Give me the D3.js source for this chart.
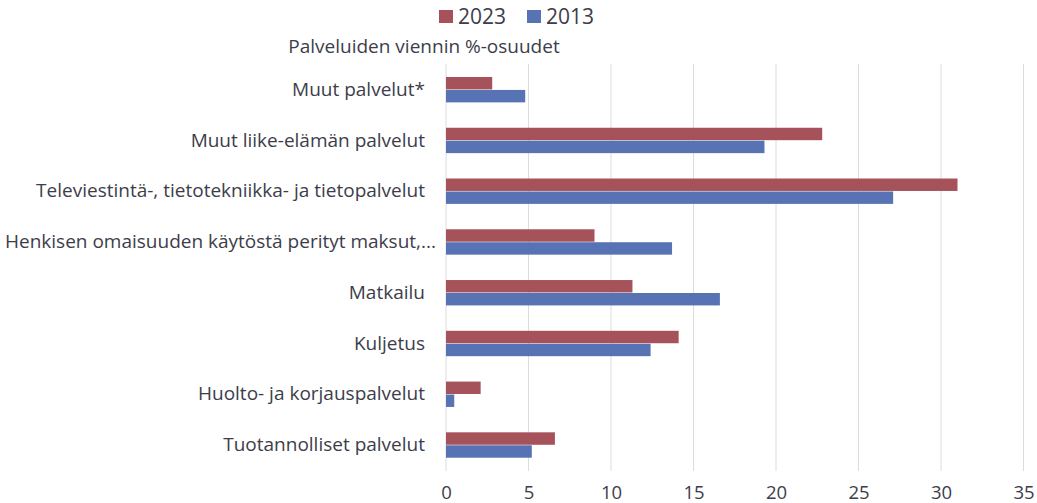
<!DOCTYPE html>
<html><head><meta charset="utf-8">
<script src="https://cdn.jsdelivr.net/npm/d3@7"></script>
<style>body{margin:0;background:#fff;} svg{display:block;font-family:"Open Sans",sans-serif;}</style>
</head><body>
<svg id="c" width="1037" height="503"></svg>
<script>
const categories = ["Muut palvelut*","Muut liike-elämän palvelut","Televiestintä-, tietotekniikka- ja tietopalvelut","Henkisen omaisuuden käytöstä perityt maksut,...","Matkailu","Kuljetus","Huolto- ja korjauspalvelut","Tuotannolliset palvelut"];
const series = ["2023","2013"];
const values2023 = [2.8,22.8,31.0,9.0,11.3,14.1,2.1,6.6];
const values2013 = [4.8,19.3,27.1,13.7,16.6,12.4,0.5,5.2];
const xTicks = [0,5,10,15,20,25,30,35];
const colors = {"2023":"#a5525a","2013":"#5873b4"};
const title = "Palveluiden viennin %-osuudet";

const svg = d3.select("#c");
const x = d3.scaleLinear().domain([0,35]).range([446,1023.5]);
const y = d3.scaleBand().domain(categories).range([64.3,470.4]).paddingInner(0.5).paddingOuter(0.25);
const ySub = d3.scaleBand().domain(series).range([0,y.bandwidth()]).paddingInner(0.04);
const textColor = "#3d3d4a";

// gridlines
svg.append("g").selectAll("line").data(xTicks).join("line")
  .attr("x1",d=>x(d)).attr("x2",d=>x(d)).attr("y1",64).attr("y2",471)
  .attr("stroke","#dcdcdc").attr("stroke-width",1);

// bars
const data = categories.map((c,i)=>({cat:c, vals:[{s:"2023",v:values2023[i]},{s:"2013",v:values2013[i]}]}));
const g = svg.append("g").selectAll("g").data(data).join("g")
  .attr("transform",d=>`translate(0,${y(d.cat)})`);
g.selectAll("rect").data(d=>d.vals).join("rect")
  .attr("x",x(0)).attr("y",d=>ySub(d.s)).attr("height",ySub.bandwidth())
  .attr("width",d=>x(d.v)-x(0)).attr("fill",d=>colors[d.s]);

// y axis labels
const yAxis = d3.axisLeft(y).tickSize(0).tickPadding(21);
const ya = svg.append("g").attr("transform",`translate(${x(0)},0)`).call(yAxis);
ya.select(".domain").remove();
ya.selectAll("text").attr("font-size",19).attr("fill",textColor).attr("font-family","Open Sans")
  .each(function(){
    const w = this.getComputedTextLength();
    const left = -21 - w + x(0);
    if (left < 5) { d3.select(this).attr("text-anchor","start").attr("x", 5 - x(0)); }
  });

// x axis
const xAxis = d3.axisBottom(x).tickValues(xTicks).tickSize(0).tickPadding(0);
const xa = svg.append("g").attr("transform","translate(0,499)").call(xAxis);
xa.select(".domain").remove();
xa.selectAll("text").attr("font-size",18.5).attr("fill",textColor).attr("font-family","Open Sans").attr("dy",0).attr("y",0);

// title
svg.append("text").attr("x",424).attr("y",53).attr("text-anchor","middle")
  .attr("font-size",19).attr("fill",textColor).text(title);

// legend
const leg = svg.append("g").attr("transform","translate(439,0)");
const li = leg.selectAll("g").data(series).join("g").attr("transform",(d,i)=>`translate(${i*88},0)`);
li.append("rect").attr("x",0).attr("y",10).attr("width",14).attr("height",13).attr("fill",d=>colors[d]);
li.append("text").attr("x",19).attr("y",24).attr("font-size",21).attr("fill",textColor).text(d=>d);
</script>
</body></html>
